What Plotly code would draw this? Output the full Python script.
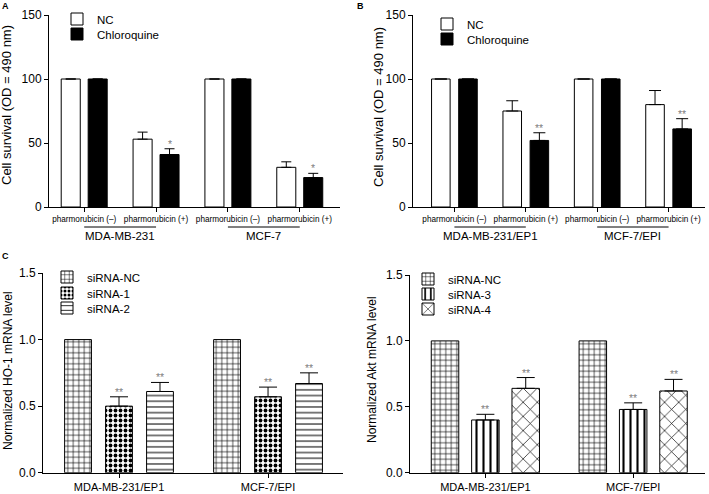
import plotly.graph_objects as go

W, H = 709, 494

# panel A / B data
treat_labels = ["pharmorubicin (–)", "pharmorubicin (+)", "pharmorubicin (–)", "pharmorubicin (+)"]
a_cells = ["MDA-MB-231", "MCF-7"]
a_nc = [100, 53, 100, 31]
a_nc_err = [0, 5.5, 0, 4.3]
a_chl = [100, 41, 100, 23]
a_chl_err = [0, 4.5, 0, 3.3]
a_sig = ["", "*", "", "*"]

b_cells = ["MDA-MB-231/EP1", "MCF-7/EPI"]
b_nc = [100, 75, 100, 80]
b_nc_err = [0, 8, 0, 11]
b_chl = [100, 52, 100, 61]
b_chl_err = [0, 6, 0, 8]
b_sig = ["", "**", "", "**"]

# panel C / D data
cd_cells = ["MDA-MB-231/EP1", "MCF-7/EPI"]
c_nc = [1.0, 1.0]
c_si1 = [0.50, 0.57]
c_si1_err = [0.07, 0.073]
c_si2 = [0.61, 0.67]
c_si2_err = [0.068, 0.08]
d_nc = [1.0, 1.0]
d_si3 = [0.40, 0.48]
d_si3_err = [0.043, 0.05]
d_si4 = [0.64, 0.62]
d_si4_err = [0.082, 0.088]
cd_sig = ["**", "**"]

FONT = "Liberation Sans, Arial, sans-serif"
STAR = "#808080"


def px_x(p):
    return p / W


def px_y(p):
    return (H - p) / H


fig = go.Figure()
legends = {}


def add_bar(x, y, err, name, xa, ya, offset, width, leg_pos, color="white", pattern=None, cap=5, sig=None):
    # every trace gets its own legend so the rows can sit where they are in the figure
    leg_id = "legend" if not legends else "legend%d" % (len(legends) + 1)
    legends[leg_id] = leg_pos
    marker = dict(color=color, line=dict(color="black", width=1))
    if pattern:
        marker["pattern"] = dict(fgcolor="black", bgcolor="white", fillmode="replace", **pattern)
    error_y = None
    if err is not None:
        error_y = dict(type="data", array=err, arrayminus=[0] * len(err), symmetric=False,
                       color="black", thickness=1, width=cap, visible=True)
    fig.add_trace(go.Bar(
        x=x, y=y, name=name, xaxis=xa, yaxis=ya, legend=leg_id,
        offset=offset, width=width, marker=marker, error_y=error_y,
    ))
    if sig:
        for xi, yi, ei, s in zip(x, y, err, sig):
            if s:
                fig.add_annotation(x=xi + offset + width / 2, y=yi + ei, xref=xa, yref=ya,
                                   text=s, showarrow=False, yanchor="bottom", yshift=-3,
                                   font=dict(size=10.5, color=STAR, family=FONT))


xs4 = list(range(4))
xs2 = list(range(2))

# A
add_bar(xs4, a_nc, a_nc_err, "NC", "x", "y", -0.32, 0.265, (98, 19), cap=5)
add_bar(xs4, a_chl, a_chl_err, "Chloroquine", "x", "y", 0.055, 0.265, (98, 34),
        color="black", cap=5, sig=a_sig)
# B
add_bar(xs4, b_nc, b_nc_err, "NC", "x2", "y2", -0.32, 0.26, (468, 24), cap=6)
add_bar(xs4, b_chl, b_chl_err, "Chloroquine", "x2", "y2", 0.06, 0.26, (468, 39),
        color="black", cap=6, sig=b_sig)
# C
grid = dict(shape="+", size=5.5, solidity=0.22)
add_bar(xs2, c_nc, None, "siRNA-NC", "x3", "y3", -0.365, 0.18, (88, 277), pattern=grid)
add_bar(xs2, c_si1, c_si1_err, "siRNA-1", "x3", "y3", -0.09, 0.18, (88, 293),
        pattern=dict(shape=".", size=5, solidity=0.45), cap=9, sig=cd_sig)
add_bar(xs2, c_si2, c_si2_err, "siRNA-2", "x3", "y3", 0.185, 0.18, (88, 308),
        pattern=dict(shape="-", size=5.7, solidity=0.18), cap=9, sig=cd_sig)
# D
add_bar(xs2, d_nc, None, "siRNA-NC", "x4", "y4", -0.366, 0.186, (449, 279), pattern=grid)
add_bar(xs2, d_si3, d_si3_err, "siRNA-3", "x4", "y4", -0.093, 0.186, (449, 294),
        pattern=dict(shape="|", size=7, solidity=0.3), cap=9, sig=cd_sig)
add_bar(xs2, d_si4, d_si4_err, "siRNA-4", "x4", "y4", 0.18, 0.186, (449, 309),
        pattern=dict(shape="x", size=10, solidity=0.13), cap=9, sig=cd_sig)

axis_common = dict(showline=True, linecolor="black", linewidth=1, ticks="outside",
                   ticklen=4, tickcolor="black", showgrid=False, zeroline=False,
                   fixedrange=True, automargin=False)

layout = dict(
    template="none",
    width=W, height=H, margin=dict(l=0, r=0, t=0, b=0, autoexpand=False),
    paper_bgcolor="white", plot_bgcolor="white",
    font=dict(family=FONT, color="black"),
    showlegend=True,
    barmode="overlay",
)

# x axes
layout["xaxis"] = dict(axis_common, domain=[px_x(49), px_x(340)], anchor="y", range=[-0.49, 3.56],
                       tickvals=xs4, ticktext=treat_labels, tickfont=dict(size=8.2))
layout["xaxis2"] = dict(axis_common, domain=[px_x(413), px_x(705)], anchor="y2", range=[-0.58, 3.51],
                        tickvals=xs4, ticktext=treat_labels, tickfont=dict(size=8.2))
layout["xaxis3"] = dict(axis_common, domain=[px_x(43), px_x(343)], anchor="y3", range=[-0.51, 1.503],
                        tickvals=xs2, ticktext=cd_cells, tickfont=dict(size=11))
layout["xaxis4"] = dict(axis_common, domain=[px_x(410), px_x(705)], anchor="y4", range=[-0.51, 1.486],
                        tickvals=xs2, ticktext=cd_cells, tickfont=dict(size=11))
# y axes
layout["yaxis"] = dict(axis_common, domain=[px_y(207), px_y(15)], anchor="x", range=[0, 150],
                       tickvals=[0, 50, 100, 150], tickfont=dict(size=12))
layout["yaxis2"] = dict(axis_common, domain=[px_y(207), px_y(15)], anchor="x2", range=[0, 150],
                        tickvals=[0, 50, 100, 150], tickfont=dict(size=12))
layout["yaxis3"] = dict(axis_common, domain=[px_y(472.7), px_y(273)], anchor="x3", range=[0, 1.5],
                        tickvals=[0, 0.5, 1.0, 1.5], tickformat=".1f", tickfont=dict(size=12))
layout["yaxis4"] = dict(axis_common, domain=[px_y(472.7), px_y(275)], anchor="x4", range=[0, 1.5],
                        tickvals=[0, 0.5, 1.0, 1.5], tickformat=".1f", tickfont=dict(size=12))

for leg_id, (tx, ty) in legends.items():
    layout[leg_id] = dict(bgcolor="rgba(0,0,0,0)", font=dict(size=11.5, family=FONT),
                          x=px_x(tx - 41), y=px_y(ty), xanchor="left", yanchor="middle",
                          borderwidth=0, itemclick=False, itemdoubleclick=False)

fig.update_layout(**layout)

# group underlines and cell line names for A and B
for xa, cells in (("x", a_cells), ("x2", b_cells)):
    for k, cell in enumerate(cells):
        fig.add_shape(type="line", xref=xa, yref="paper", x0=2 * k, x1=2 * k + 1,
                      y0=px_y(227), y1=px_y(227), line=dict(color="black", width=1))
        fig.add_annotation(x=2 * k + 0.5, y=px_y(236), xref=xa, yref="paper", text=cell,
                           showarrow=False, yanchor="middle", font=dict(size=11.5, family=FONT))

# y-axis titles
ytitles = [
    (7, 105, "Cell survival (OD = 490 nm)", 13),
    (378, 107, "Cell survival (OD = 490 nm)", 13),
    (8, 371, "Normalized HO-1 mRNA level", 12),
    (372, 370, "Normalized Akt mRNA level", 12),
]
for x, y, t, s in ytitles:
    fig.add_annotation(x=px_x(x), y=px_y(y), xref="paper", yref="paper", text=t, textangle=-90,
                       xanchor="center", yanchor="middle",
                       showarrow=False, font=dict(size=s, family=FONT))

# panel letters
for x, y, t in ((5, 6, "A"), (360, 6, "B"), (5, 256, "C")):
    fig.add_annotation(x=px_x(x), y=px_y(y), xref="paper", yref="paper", text="<b>" + t + "</b>",
                       xanchor="center", yanchor="middle",
                       showarrow=False, font=dict(size=9, family=FONT))

# page body has a default 8px margin; drop it so the figure fills the window
fig.write_html("out.html", config={"displayModeBar": False},
               post_script="document.body.style.margin='0';")
